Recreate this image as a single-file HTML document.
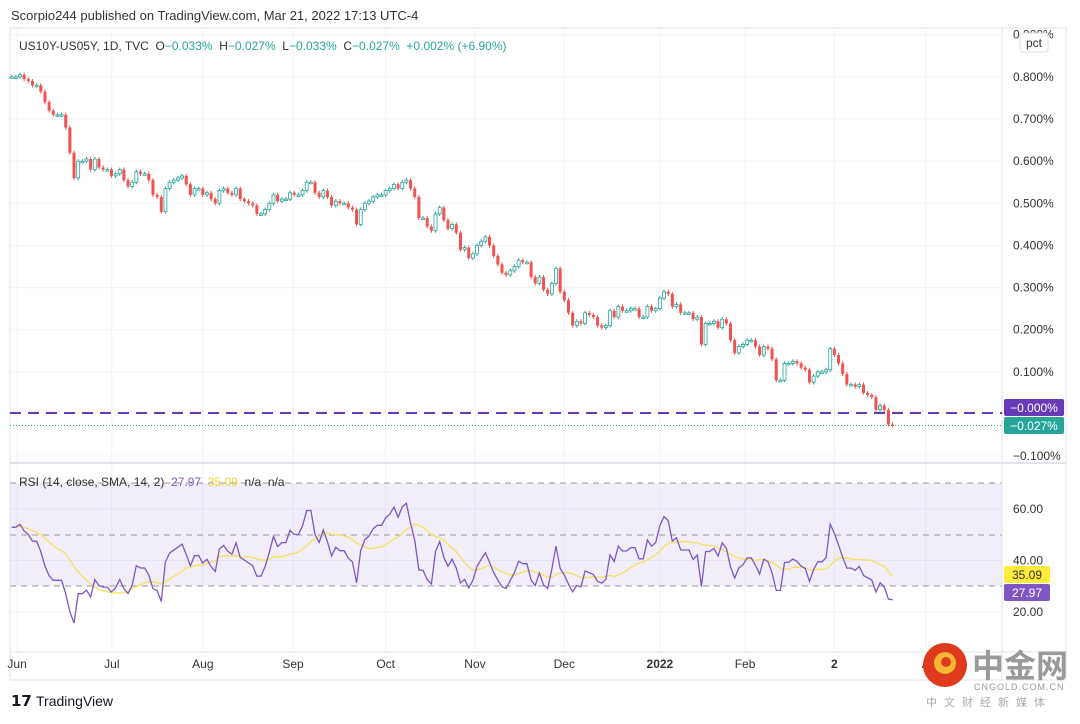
<!DOCTYPE html>
<html><head><meta charset="utf-8">
<style>
body{margin:0;background:#fff;font-family:"Liberation Sans",sans-serif;}
svg text{font-family:"Liberation Sans","Noto Sans CJK SC",sans-serif;}
</style></head>
<body>
<svg id="c" width="1080" height="719" viewBox="0 0 1080 719" xmlns="http://www.w3.org/2000/svg">
<text x="11" y="20" font-size="13" fill="#333">Scorpio244 published on TradingView.com, Mar 21, 2022 17:13 UTC-4</text>
<g id="grid"></g>
<rect x="10" y="483" width="992" height="103" fill="#7e57c2" fill-opacity="0.1"/>
<line x1="10" y1="483" x2="1002" y2="483" stroke="#999" stroke-dasharray="6 5"/>
<line x1="10" y1="535" x2="1002" y2="535" stroke="#999" stroke-dasharray="6 5"/>
<line x1="10" y1="586" x2="1002" y2="586" stroke="#999" stroke-dasharray="6 5"/>
<g id="frame">
<line x1="10" y1="28" x2="1066" y2="28" stroke="#e0e3eb"/>
<line x1="10" y1="28" x2="10" y2="680" stroke="#e0e3eb"/>
<line x1="1002" y1="28" x2="1002" y2="680" stroke="#e0e3eb"/>
<line x1="1066" y1="28" x2="1066" y2="680" stroke="#e0e3eb"/>
<line x1="10" y1="463" x2="1066" y2="463" stroke="#e0e3eb" stroke-width="2"/>
<line x1="10" y1="652" x2="1066" y2="652" stroke="#e0e3eb"/>
<line x1="10" y1="680" x2="1066" y2="680" stroke="#e0e3eb"/>
</g>
<g id="candles"></g>
<line x1="10" y1="413" x2="1002" y2="413" stroke="#673ab7" stroke-width="2" stroke-dasharray="11 7"/>
<line x1="10" y1="425.5" x2="1002" y2="425.5" stroke="#26a69a" stroke-dasharray="1 2"/>
<g id="rsi"></g>
<g id="axes"></g>
<rect x="1004" y="399" width="60" height="17" rx="2" fill="#673ab7"/>
<text x="1034" y="412" font-size="12" fill="#fff" text-anchor="middle">−0.000%</text>
<rect x="1004" y="417" width="60" height="17" rx="2" fill="#26a69a"/>
<text x="1034" y="430" font-size="12" fill="#fff" text-anchor="middle">−0.027%</text>
<rect x="1004" y="566" width="46" height="17" rx="2" fill="#ffeb3b"/>
<text x="1027" y="579" font-size="12" fill="#333" text-anchor="middle">35.09</text>
<rect x="1004" y="584" width="46" height="17" rx="2" fill="#7e57c2"/>
<text x="1027" y="597" font-size="12" fill="#fff" text-anchor="middle">27.97</text>
<rect x="1020" y="33" width="28" height="19" rx="3" fill="#fff" stroke="#ddd"/>
<text x="1034" y="47" font-size="12" fill="#333" text-anchor="middle">pct</text>
<text x="19" y="50" font-size="12" xml:space="preserve"><tspan fill="#333">US10Y-US05Y, 1D, TVC  O</tspan><tspan fill="#26a69a">−0.033%</tspan><tspan fill="#333">  H</tspan><tspan fill="#26a69a">−0.027%</tspan><tspan fill="#333">  L</tspan><tspan fill="#26a69a">−0.033%</tspan><tspan fill="#333">  C</tspan><tspan fill="#26a69a">−0.027%  +0.002% (+6.90%)</tspan></text>
<text x="19" y="486" font-size="12" xml:space="preserve"><tspan fill="#333">RSI (14, close, SMA, 14, 2)  </tspan><tspan fill="#7e57c2">27.97  </tspan><tspan fill="#f2d32a">35.09  </tspan><tspan fill="#333">n/a  n/a</tspan></text>
<g>
<text x="11" y="706" font-size="15" font-weight="bold" fill="#131722">𝟭𝟳</text>
<text x="36" y="706" font-size="14" fill="#131722">TradingView</text>
</g>
<g>
<circle cx="945" cy="665" r="22" fill="#e03a1e"/>
<circle cx="945" cy="663" r="11" fill="#f7b733"/>
<circle cx="946" cy="662" r="5" fill="#e03a1e"/>
<text x="972" y="677" font-size="32" font-weight="bold" fill="#9a9a9a">中金网</text>
<text x="974" y="690" font-size="9" fill="#999" letter-spacing="1">CNGOLD.COM.CN</text>
<text x="926" y="706" font-size="11" fill="#aaa" letter-spacing="7">中文财经新媒体</text>
</g>
<script>
const closes=[0.80,0.80,0.805,0.795,0.79,0.78,0.78,0.765,0.74,0.72,
0.71,0.71,0.71,0.68,0.62,0.56,0.60,0.60,0.605,0.58,
0.605,0.585,0.58,0.58,0.565,0.57,0.58,0.555,0.54,0.55,
0.575,0.57,0.57,0.555,0.52,0.515,0.48,0.535,0.55,0.555,
0.56,0.565,0.545,0.52,0.535,0.535,0.52,0.525,0.51,0.50,
0.53,0.535,0.525,0.52,0.535,0.51,0.505,0.50,0.495,0.475,
0.475,0.485,0.50,0.52,0.505,0.51,0.51,0.525,0.52,0.52,
0.53,0.55,0.55,0.525,0.515,0.53,0.515,0.495,0.505,0.50,
0.50,0.49,0.485,0.45,0.485,0.50,0.505,0.515,0.52,0.52,
0.53,0.535,0.545,0.535,0.55,0.555,0.535,0.515,0.465,0.465,
0.445,0.435,0.475,0.49,0.46,0.44,0.45,0.43,
0.39,0.395,0.37,0.38,0.40,0.41,0.42,0.40,0.375,0.355,
0.335,0.33,0.34,0.35,0.365,0.36,0.36,0.325,0.31,0.325,
0.295,0.285,0.31,0.345,0.29,0.27,0.24,0.21,0.22,0.215,
0.24,0.235,0.23,0.21,0.205,0.21,0.245,0.23,0.255,0.245,
0.245,0.25,0.25,0.23,0.23,0.255,0.245,0.25,
0.275,0.29,0.285,0.255,0.26,0.24,0.24,0.24,0.225,0.23,
0.165,0.215,0.215,0.22,0.205,0.225,0.215,0.175,0.145,0.16,
0.165,0.175,0.175,0.16,0.14,0.16,0.155,0.13,0.08,0.08,
0.12,0.12,0.125,0.12,0.11,0.105,0.075,0.09,0.10,0.10,
0.105,0.155,0.14,0.12,0.095,0.07,0.07,0.065,0.07,0.05,
0.045,0.04,0.01,0.02,0.01,-0.025,-0.027];
const priceTicks=[0.9,0.8,0.7,0.6,0.5,0.4,0.3,0.2,0.1,-0.1];
const rsiTicks=[60,40,20];
const monthLabels=["Jun","Jul","Aug","Sep","Oct","Nov","Dec","2022","Feb","2","A"];
const monthIdx=[1.3,24.1,46,67.7,90,111.5,133,156,176.5,198,220];

const NS="http://www.w3.org/2000/svg";
const X0=11.7,STEP=4.155;
const xi=i=>X0+i*STEP;
const py=v=>414-v*421.4;
const ry=v=>612-(v-20)*2.575;
function mk(tag,attrs,parent){const e=document.createElementNS(NS,tag);for(const k in attrs)e.setAttribute(k,attrs[k]);parent.appendChild(e);return e;}
const grid=document.getElementById('grid'),cg=document.getElementById('candles'),rg=document.getElementById('rsi'),ax=document.getElementById('axes');

priceTicks.forEach(v=>{
 const y=py(v);
 if(y>30){const l=mk('line',{x1:10,x2:1002,y1:y,y2:y,stroke:'#f0f3fa'},grid);
 
 }
 const t=mk('text',{x:1013,y:y+4,'font-size':12,fill:'#333'},ax);
 t.textContent=(v<0?'−':'')+Math.abs(v).toFixed(3)+'%';
 
 
});
rsiTicks.forEach(v=>{
 const y=ry(v);
 const l=mk('line',{x1:10,x2:1002,y1:y,y2:y,stroke:'#f0f3fa'},grid);
 
 
 const t=mk('text',{x:1013,y:y+4,'font-size':12,fill:'#333'},ax);
 t.textContent=v.toFixed(2);
 
 
});
monthLabels.forEach((m,k)=>{
 const x=xi(monthIdx[k]);
 const l=mk('line',{x1:x,x2:x,y1:28,y2:652,stroke:'#f0f3fa'},grid);
 
 
 const t=mk('text',{x:x,y:668,'font-size':12,fill:'#333','text-anchor':'middle','font-weight':(m==='2022'||m==='2')?'bold':'normal'},ax);
 t.textContent=m;
 
 
});

closes.forEach((c,i)=>{
 const o=i?closes[i-1]:c;
 const up=c>=o, col=up?'#26a69a':'#ef5350';
 const hi=Math.max(o,c)+0.005, lo=Math.min(o,c)-0.005;
 const x=xi(i);
 const w=mk('line',{x1:x,x2:x,y1:py(hi),y2:py(lo),stroke:col},cg);
 
 
 const top=py(Math.max(o,c)),h=Math.max(1.5,py(Math.min(o,c))-top);
 const r=mk('rect',{x:x-1.5,y:top,width:3,height:h,fill:up?'#fff':col,stroke:col,'stroke-width':up?0.8:0},cg);
 
 
});

const rsi=[];let ag=0.009,al=0.008;
closes.forEach((c,i)=>{
 if(i){const d=c-closes[i-1];ag=(ag*13+Math.max(d,0))/14;al=(al*13+Math.max(-d,0))/14;}
 rsi.push(100-100/(1+ag/(al||1e-9)));
});
const sma=rsi.map((v,i)=>{const s=rsi.slice(Math.max(0,i-13),i+1);return s.reduce((a,b)=>a+b,0)/s.length;});
const pts=a=>a.map((v,i)=>xi(i).toFixed(1)+','+ry(v).toFixed(1)).join(' ');
const sl=mk('polyline',{points:pts(sma),fill:'none',stroke:'#f5e15b','stroke-width':1.3},rg);


const rl=mk('polyline',{points:pts(rsi),fill:'none',stroke:'#7e57c2','stroke-width':1.3},rg);


</script>
</svg>
</body></html>
